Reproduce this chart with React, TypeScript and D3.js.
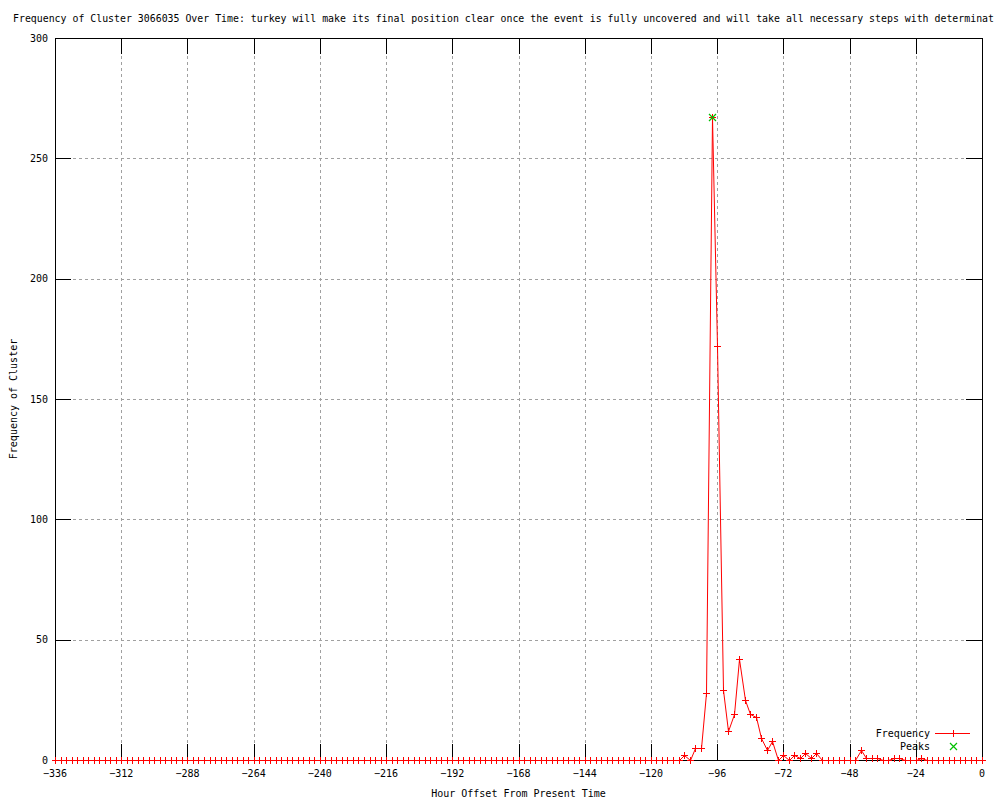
import * as d3 from 'd3';

// title as far as it is visible in the chart
const title =
  'Frequency of Cluster 3066035 Over Time: turkey will make its final position clear once the event is fully uncovered and will take all necessary steps with determinat';

// hour offsets, one reading every 2 hours
const hours = d3.range(-336, 1, 2);

// frequency per 2-hour slot, 12 slots (24 h) per row
const frequency = [
  0, 0, 0, 0, 0, 0, 0, 0, 0, 0, 0, 0, // -336
  0, 0, 0, 0, 0, 0, 0, 0, 0, 0, 0, 0, // -312
  0, 0, 0, 0, 0, 0, 0, 0, 0, 0, 0, 0, // -288
  0, 0, 0, 0, 0, 0, 0, 0, 0, 0, 0, 0, // -264
  0, 0, 0, 0, 0, 0, 0, 0, 0, 0, 0, 0, // -240
  0, 0, 0, 0, 0, 0, 0, 0, 0, 0, 0, 0, // -216
  0, 0, 0, 0, 0, 0, 0, 0, 0, 0, 0, 0, // -192
  0, 0, 0, 0, 0, 0, 0, 0, 0, 0, 0, 0, // -168
  0, 0, 0, 0, 0, 0, 0, 0, 0, 0, 0, 0, // -144
  0, 0, 0, 0, 0, 0, 2, 0, 5, 5, 28, 267, // -120
  172, 29, 12, 19, 42, 25, 19, 18, 9, 4, 8, 0, // -96
  2, 0, 2, 1, 3, 1, 3, 0, 0, 0, 0, 0, // -72
  0, 0, 4, 1, 1, 1, 0, 0, 1, 1, 0, 0, // -48
  0, 1, 0, 0, 0, 0, 0, 0, 0, 0, 0, 0, // -24
  0, // 0
];

const peakHours = [-98];
const peakValues = [267];

const xTicks = [-336, -312, -288, -264, -240, -216, -192, -168, -144, -120, -96, -72, -48, -24, 0];
const yTicks = [0, 50, 100, 150, 200, 250, 300];

const W = 1000;
const H = 800;
const left = 55;
const right = 982;
const top = 38;
const bottom = 760;
const font = '"DejaVu Sans Mono", monospace';
const red = '#ff0000';
const green = '#00c000';

const Plus = ({ x, y, s = 3.5 }) => (
  <path
    d={`M${x - s},${y}H${x + s}M${x},${y - s}V${y + s}`}
    stroke={red}
    strokeWidth={1}
    fill="none"
    shapeRendering="crispEdges"
  />
);

const Cross = ({ x, y, s = 3.5 }) => (
  <path
    d={`M${x - s},${y - s}L${x + s},${y + s}M${x - s},${y + s}L${x + s},${y - s}`}
    stroke={green}
    strokeWidth={1.2}
    fill="none"
  />
);

const App = () => {
  const x = d3.scaleLinear().domain([-336, 0]).range([left, right]);
  const y = d3.scaleLinear().domain([0, 300]).range([bottom, top]);

  const data = hours.map((h, i) => ({ h, v: frequency[i] }));
  const line = d3
    .line<{ h: number; v: number }>()
    .x((d) => Math.round(x(d.h)) + 0.5)
    .y((d) => Math.round(y(d.v)) + 0.5);

  const tick = 16;

  return (
    <svg width={W} height={H} style={{ position: 'absolute', left: 0, top: 0, background: '#fff' }}>
      <rect x={0} y={0} width={W} height={H} fill="#fff" />
      <text x={13} y={22} fontFamily={font} fontSize={9.9} fill="#000">
        {title}
      </text>

      {/* grid */}
      <g stroke="#a0a0a0" strokeWidth={1} strokeDasharray="3,3" shapeRendering="crispEdges">
        {xTicks.slice(1, -1).map((t) => (
          <line key={'gx' + t} x1={Math.round(x(t)) + 0.5} x2={Math.round(x(t)) + 0.5} y1={top} y2={bottom} />
        ))}
        {yTicks.slice(1, -1).map((t) => (
          <line key={'gy' + t} x1={left} x2={right} y1={Math.round(y(t)) + 0.5} y2={Math.round(y(t)) + 0.5} />
        ))}
      </g>

      {/* data line */}
      <path d={line(data) ?? ''} fill="none" stroke={red} strokeWidth={1} />

      {/* border and ticks */}
      <g stroke="#000" strokeWidth={1} shapeRendering="crispEdges">
        <rect x={left + 0.5} y={top + 0.5} width={right - left} height={bottom - top} fill="none" />
        {xTicks.map((t) => {
          const px = Math.round(x(t)) + 0.5;
          return (
            <g key={'tx' + t}>
              <line x1={px} x2={px} y1={bottom} y2={bottom - tick} />
              <line x1={px} x2={px} y1={top} y2={top + tick} />
            </g>
          );
        })}
        {yTicks.map((t) => {
          const py = Math.round(y(t)) + 0.5;
          return (
            <g key={'ty' + t}>
              <line x1={left} x2={left + tick} y1={py} y2={py} />
              <line x1={right} x2={right - tick} y1={py} y2={py} />
            </g>
          );
        })}
      </g>

      {/* points */}
      {data.map((d) => (
        <Plus key={'p' + d.h} x={Math.round(x(d.h)) + 0.5} y={Math.round(y(d.v)) + 0.5} />
      ))}
      {peakHours.map((h, i) => (
        <Cross key={'pk' + h} x={Math.round(x(h)) + 0.5} y={Math.round(y(peakValues[i])) + 0.5} />
      ))}

      {/* tick labels */}
      <g fontFamily={font} fontSize={10} fill="#000">
        {xTicks.map((t) => (
          <text key={'lx' + t} x={x(t)} y={777} textAnchor="middle">
            {t === 0 ? '0' : '\u2212' + Math.abs(t)}
          </text>
        ))}
        {yTicks.map((t) => (
          <text key={'ly' + t} x={48} y={y(t) + 3.5} textAnchor="end">
            {t}
          </text>
        ))}
        <text x={(left + right) / 2} y={797} textAnchor="middle">
          Hour Offset From Present Time
        </text>
        <text transform={`translate(17,${(top + bottom) / 2}) rotate(-90)`} textAnchor="middle">
          Frequency of Cluster
        </text>
      </g>

      {/* legend */}
      <text x={930} y={737} textAnchor="end" fontFamily={font} fontSize={10} fill="#000">
        Frequency
      </text>
      <line x1={935} x2={970} y1={733.5} y2={733.5} stroke={red} strokeWidth={1} shapeRendering="crispEdges" />
      <Plus x={953.5} y={733.5} />
      <text x={930} y={750} textAnchor="end" fontFamily={font} fontSize={10} fill="#000">
        Peaks
      </text>
      <Cross x={953.5} y={746.5} />
    </svg>
  );
};

export default App;
